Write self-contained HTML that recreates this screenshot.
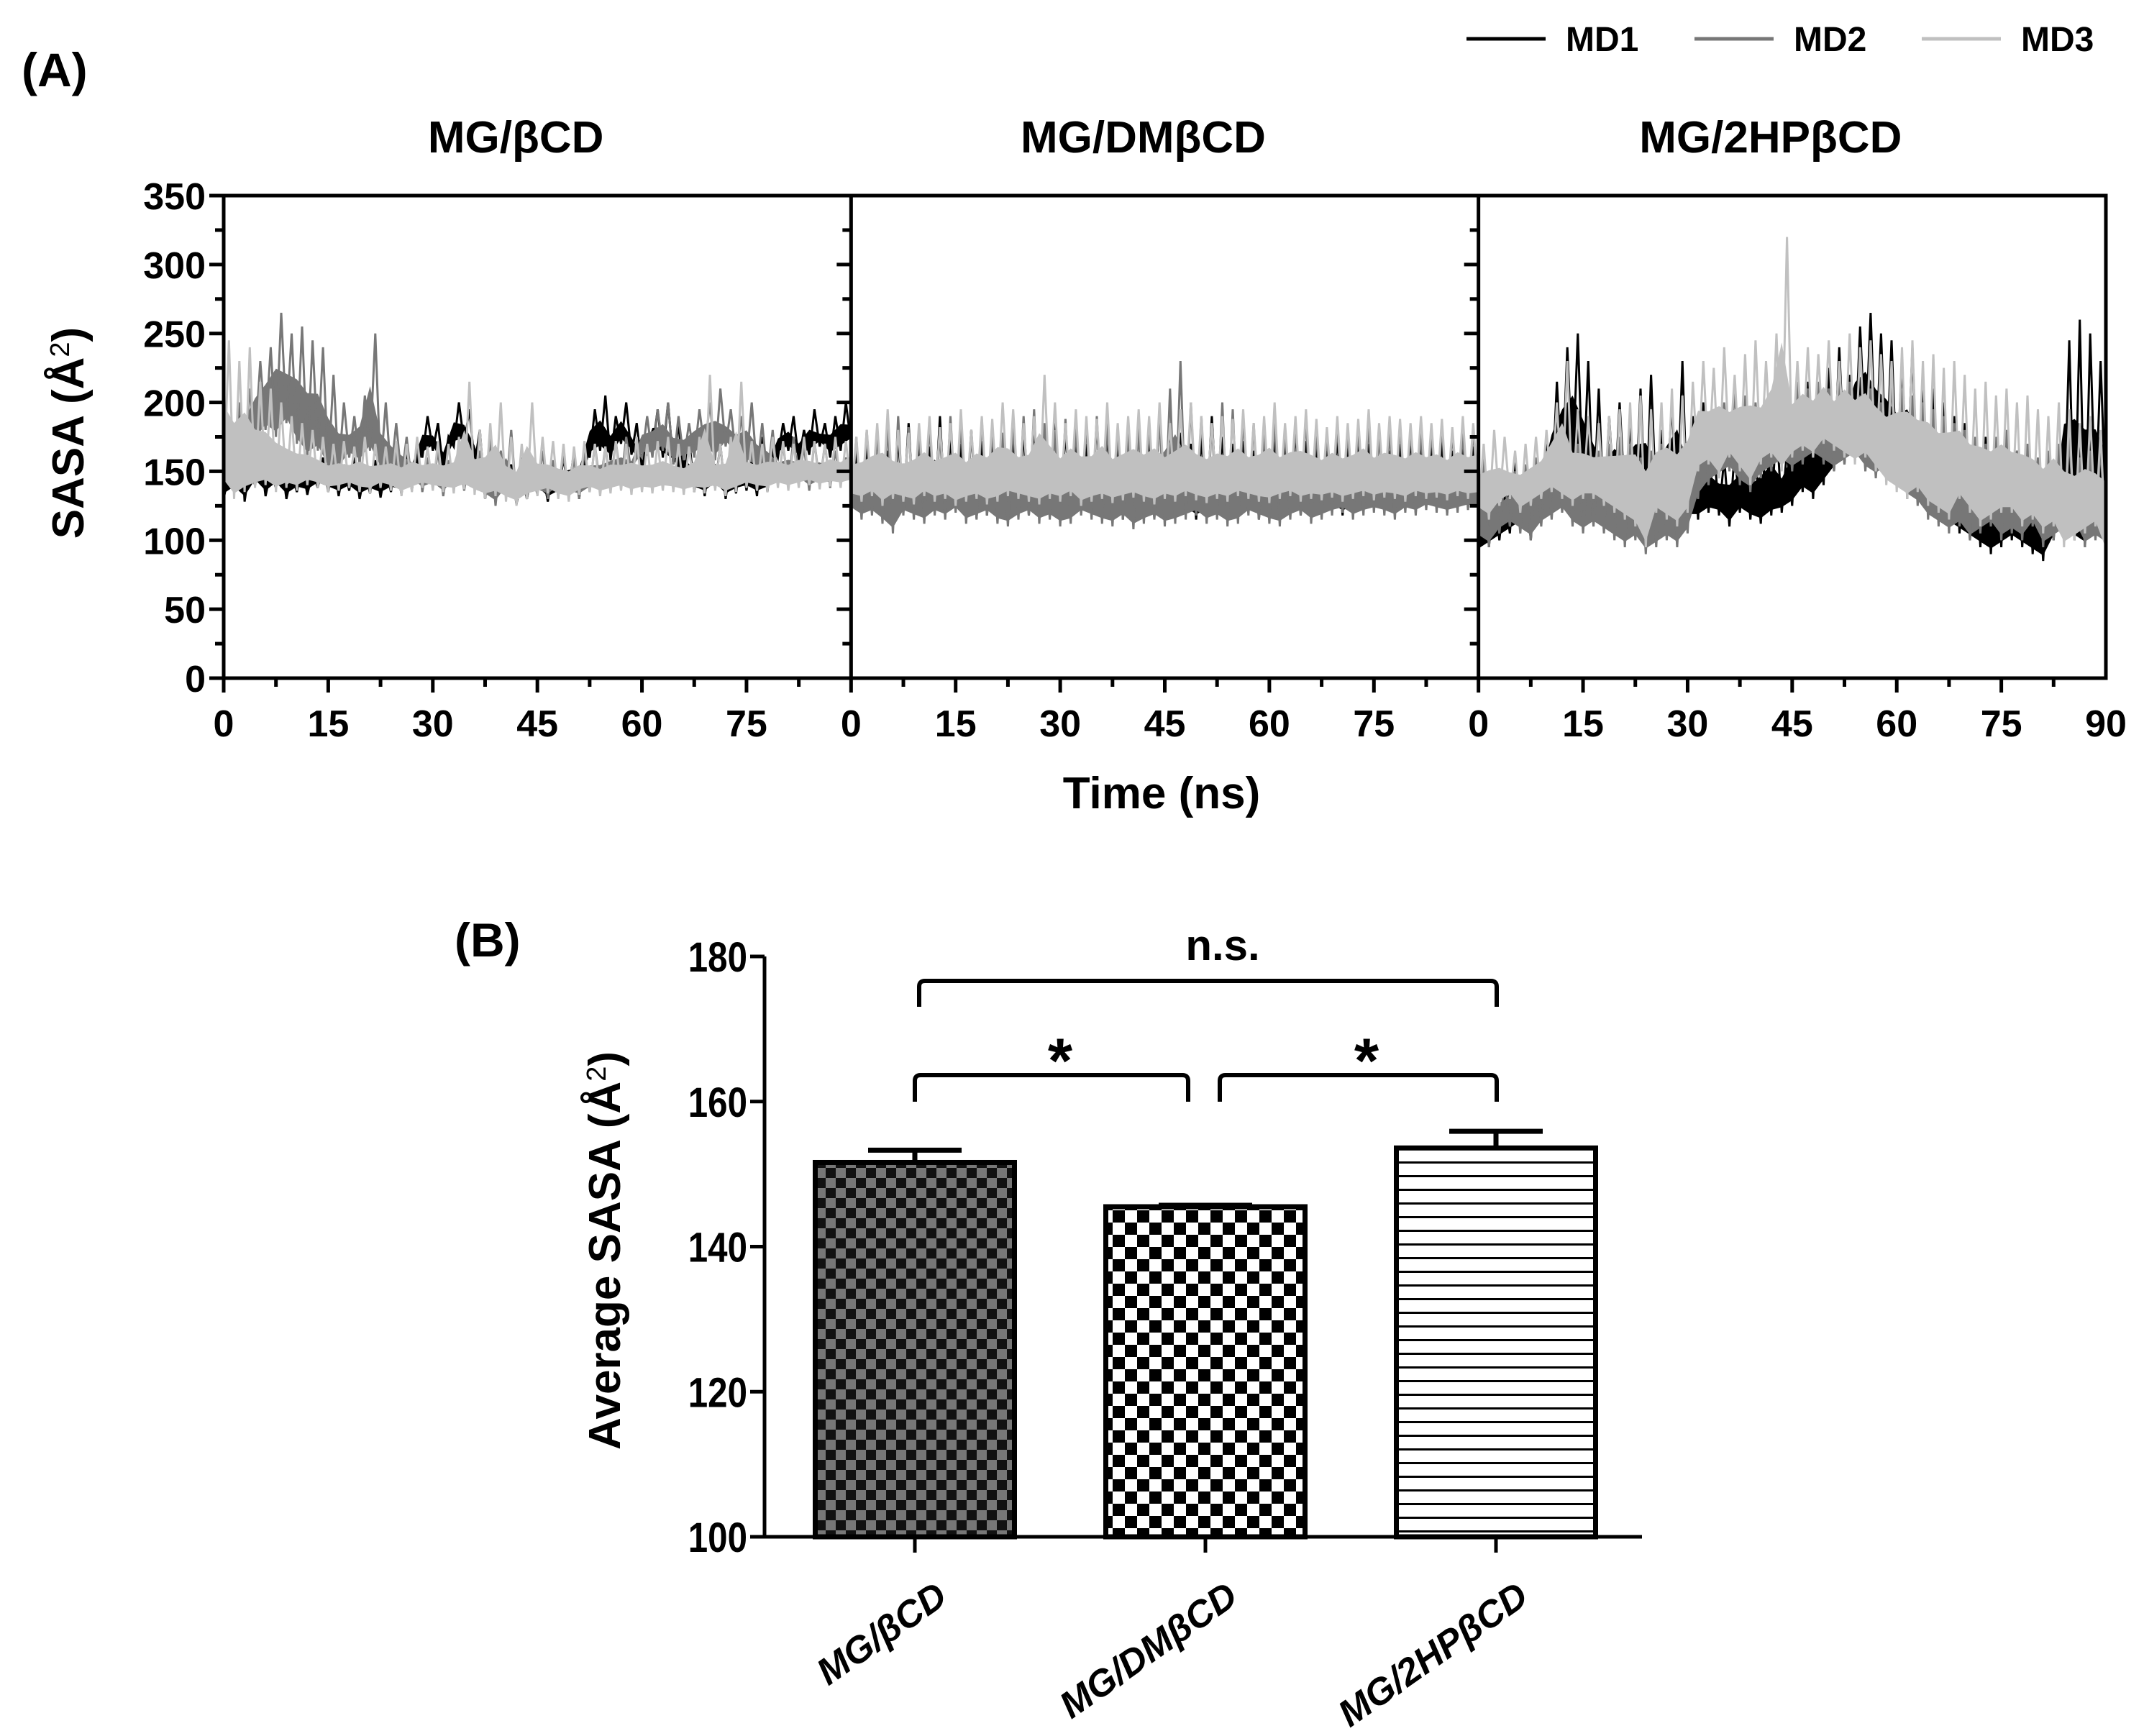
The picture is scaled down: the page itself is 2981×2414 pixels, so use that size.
<!DOCTYPE html>
<html><head><meta charset="utf-8"><style>
html,body{margin:0;padding:0;background:#fff;}
svg{display:block;}
text{font-family:"Liberation Sans",sans-serif;font-weight:bold;fill:#000;}
</style></head><body>
<svg id="fig" width="2981" height="2414" viewBox="0 0 2981 2414" xmlns="http://www.w3.org/2000/svg">
<defs>
<pattern id="pat1" width="28" height="28" patternUnits="userSpaceOnUse"><rect width="28" height="28" fill="#777"/><rect width="14" height="14" fill="#111"/><rect x="14" y="14" width="14" height="14" fill="#111"/></pattern>
<pattern id="pat2" width="34" height="34" patternUnits="userSpaceOnUse"><rect width="34" height="34" fill="#fff"/><rect width="17" height="17" fill="#000"/><rect x="17" y="17" width="17" height="17" fill="#000"/></pattern>
<pattern id="pat3" width="20" height="19" patternUnits="userSpaceOnUse"><rect width="20" height="19" fill="#fff"/><rect y="0" width="20" height="3" fill="#000"/></pattern>
</defs>
<text x="30" y="120" font-size="66">(A)</text>
<text x="632" y="1330" font-size="66">(B)</text>
</svg>
<script>
// ---------- Panel A data ----------
const panelTitles = ["MG/βCD", "MG/DMβCD", "MG/2HPβCD"];
const seriesNames = ["MD1", "MD2", "MD3"];
const seriesColors = ["#000", "#777", "#c0c0c0"];
const yTicksA = [0, 50, 100, 150, 200, 250, 300, 350];
const xTicksA = [0, 15, 30, 45, 60, 75];
const timeStep = 1.5;
// panel 1 (βCD): hi / lo envelope per 1.5 ns
const p1md1Hi = [150,200,155,165,150,160,148,155,150,160,158,155,160,150,158,152,160,165,170,190,185,175,200,195,180,160,150,155,148,152,150,155,160,165,170,195,205,190,200,185,170,195,200,185,175,165,160,170,158,165,160,175,170,185,190,180,195,185,190,200,195];
const p1md1Lo = [130,135,128,140,132,138,130,135,133,138,135,132,136,130,134,131,135,133,136,160,165,150,168,170,155,130,128,132,126,130,135,128,132,134,130,160,165,158,170,162,150,165,160,155,140,135,132,138,130,134,136,132,135,160,165,158,162,168,160,165,170];
const p1md2Hi = [190,200,210,230,240,265,250,255,245,240,220,200,190,205,250,200,185,175,170,160,165,158,162,160,165,175,165,180,160,150,165,158,162,160,165,170,168,172,175,165,190,195,200,190,185,195,200,210,195,190,200,185,180,170,175,168,172,170,165,160,170];
const p1md2Lo = [140,150,160,170,180,175,185,170,160,165,150,150,160,155,165,150,148,145,140,135,138,132,140,136,138,130,125,135,128,130,133,130,135,132,130,135,138,140,142,148,160,160,165,155,158,160,165,158,168,160,155,150,145,140,138,142,136,140,138,142,145];
const p1md3Hi = [245,230,240,215,210,200,190,185,180,175,170,172,168,175,170,168,172,170,175,168,172,170,175,215,180,185,200,175,170,200,175,172,170,168,172,170,168,172,170,175,170,172,175,170,168,175,220,170,175,215,172,170,175,172,170,175,172,170,175,172,178];
const p1md3Lo = [140,130,135,138,140,135,138,136,140,138,135,136,138,135,134,138,136,132,135,138,136,135,134,137,133,130,132,128,125,130,132,134,130,128,133,135,132,134,136,133,135,134,136,135,133,135,134,136,132,135,138,136,135,138,136,138,140,137,139,138,140];
// panel 2 (DMβCD)
const p2md1Hi = [165,170,180,165,175,185,170,168,190,175,170,180,172,168,175,170,178,185,175,195,180,175,170,185,178,172,170,180,175,190,180,178,170,175,190,175,170,172,165,170,175,168,180,172,170,165,175,168,172,170,178,165,170,175,168,170,172,165,170,168,175];
const p2md1Lo = [125,118,120,122,115,120,118,125,120,118,122,120,116,118,115,120,122,118,120,117,115,118,120,122,118,120,115,118,120,116,122,118,120,115,118,120,122,118,120,115,118,120,122,118,125,120,122,118,120,125,122,120,124,122,120,125,123,120,122,125,120];
const p2md2Hi = [175,180,178,185,190,182,180,185,178,190,185,180,188,182,178,185,190,195,185,180,188,182,185,190,185,180,178,182,185,190,210,230,200,190,185,200,195,190,185,180,188,182,185,190,180,178,185,180,182,185,178,180,185,182,178,180,185,180,178,182,180];
const p2md2Lo = [120,115,118,112,105,118,115,112,118,115,120,112,115,118,112,110,115,118,112,115,110,112,118,115,112,110,115,108,112,115,110,112,115,118,112,115,110,112,118,115,112,110,115,118,112,115,118,120,115,118,120,118,115,120,118,122,120,118,120,122,120];
const p2md3Hi = [175,180,185,195,180,178,185,190,182,185,195,180,190,188,200,195,185,190,220,200,185,195,190,188,200,185,190,195,190,200,185,195,200,190,185,190,188,195,185,190,200,185,190,195,188,182,190,185,188,195,185,190,188,185,190,185,188,182,190,185,188];
const p2md3Lo = [130,128,132,125,130,128,126,132,128,130,125,128,130,126,128,132,130,128,126,130,128,132,125,128,130,127,129,131,128,126,130,128,132,129,127,130,128,132,130,128,127,130,132,128,130,129,131,128,130,132,129,131,130,128,132,130,131,129,132,130,131];
// panel 3 (2HPβCD)
const p3md1Hi = [150,140,135,160,145,150,170,215,240,250,230,210,190,200,185,210,220,180,200,230,190,200,170,160,165,170,160,175,185,165,190,215,200,225,240,220,255,265,250,245,230,240,220,210,200,190,185,170,175,160,180,165,160,150,155,150,245,260,250,230,200];
const p3md1Lo = [90,95,100,105,110,100,115,130,140,150,135,120,115,125,130,120,110,125,130,120,115,115,120,118,110,120,115,112,118,120,125,135,130,140,150,155,165,170,160,150,145,140,130,120,115,110,105,100,95,90,95,100,95,90,85,100,110,100,95,120,120];
const p3md2Hi = [160,150,145,150,155,160,165,170,165,170,160,165,170,175,170,160,165,170,160,165,170,190,195,200,210,205,200,195,210,205,215,210,215,210,220,215,205,210,200,215,210,205,200,195,190,185,180,175,170,175,180,165,170,160,165,170,175,160,165,170,165];
const p3md2Lo = [100,95,105,110,105,100,110,115,120,110,105,110,105,100,95,100,90,95,100,95,105,130,140,145,150,140,135,145,150,155,150,155,160,155,150,155,160,150,145,150,140,130,125,115,110,105,110,100,105,110,100,105,100,110,95,100,105,110,95,100,95];
const p3md3Hi = [170,180,175,165,170,175,180,200,230,195,190,185,190,195,200,205,195,200,210,205,215,230,225,240,220,235,245,230,250,320,230,240,235,245,230,250,240,245,235,230,240,245,230,235,225,230,220,210,215,205,210,200,205,195,190,200,195,185,190,180,185];
const p3md3Lo = [120,115,125,130,120,125,130,135,130,125,130,130,125,120,115,110,95,120,115,110,120,150,155,145,160,150,140,155,160,150,160,165,160,170,165,160,155,160,150,140,135,130,135,125,120,115,130,120,110,115,120,120,110,115,105,110,95,100,105,110,90];
const panelHi = [[p1md1Hi,p1md2Hi,p1md3Hi],[p2md1Hi,p2md2Hi,p2md3Hi],[p3md1Hi,p3md2Hi,p3md3Hi]];
const panelLo = [[p1md1Lo,p1md2Lo,p1md3Lo],[p2md1Lo,p2md2Lo,p2md3Lo],[p3md1Lo,p3md2Lo,p3md3Lo]];

// ---------- Panel B data ----------
const barCategories = ["MG/βCD", "MG/DMβCD", "MG/2HPβCD"];
const barMeans = [151.6, 145.5, 153.6];
const barErrors = [1.7, 0.2, 2.3];
const yTicksB = [100, 120, 140, 160, 180];
const barPatterns = ["url(#pat1)", "url(#pat2)", "url(#pat3)"];

const NS = "http://www.w3.org/2000/svg";
const svg = document.getElementById("fig");
function mk(tag, attrs, parent) {
  const e = document.createElementNS(NS, tag);
  for (const k in attrs) e.setAttribute(k, attrs[k]);
  (parent || svg).appendChild(e);
  return e;
}

// ---------- Panel A axes ----------
const AX0 = 311, AX1 = 2928, AYT = 272, AYB = 943;
const PW = (AX1 - AX0) / 3;
const yA = v => AYB - v * (AYB - AYT) / 350;
const xA = (p, t) => AX0 + p * PW + t * PW / 90;

const gA = mk("g", {});



for (let p = 0; p < 3; p++) {
  const gp = mk("g", {}, gA);
  
  
  for (let s = 0; s < 3; s++) {
    const hi = panelHi[p][s], lo = panelLo[p][s];
    // envelope band
    let up = "", dn = "";
    for (let i = 0; i < hi.length; i++) {
      const t = Math.min(90, i * timeStep);
      up += (i === 0 ? "M" : "L") + xA(p, t).toFixed(1) + " " + yA((hi[i] * 0.55 + lo[i] * 0.45)).toFixed(1) + " ";
    }
    for (let i = hi.length - 1; i >= 0; i--) {
      const t = Math.min(90, i * timeStep);
      dn += "L" + xA(p, t).toFixed(1) + " " + yA(lo[i] + 4).toFixed(1) + " ";
    }
    const band = mk("path", {d: up + dn + "Z", fill: seriesColors[s], stroke: "none"}, gp);
    
    
    let d = "";
    for (let i = 0; i < hi.length; i++) {
      const t0 = i * timeStep, t1 = Math.min(90, i * timeStep + timeStep / 2);
      d += (i === 0 ? "M" : "L") + xA(p, t0).toFixed(1) + " " + yA(lo[i]).toFixed(1) + " L" + xA(p, t1).toFixed(1) + " " + yA(hi[i]).toFixed(1) + " ";
    }
    const path = mk("path", {d: d, fill: "none", stroke: seriesColors[s], "stroke-width": 3, "stroke-linejoin": "miter"}, gp);
    
    
  }
  const title = mk("text", {x: AX0 + p * PW + PW / 2 - 30, y: 212, "font-size": 62, "text-anchor": "middle"}, gA);
  title.textContent = panelTitles[p];
  
  
  for (let t = 0; t < 90; t += 7.5) {
    const major = (t % 15 === 0);
    const tk = mk("line", {x1: xA(p, t), x2: xA(p, t), y1: AYB, y2: AYB + (major ? 20 : 12), stroke: "#000", "stroke-width": 5}, gA);
    
    
  }
  for (const t of xTicksA) {
    const lb = mk("text", {x: xA(p, t), y: 1024, "font-size": 52, "text-anchor": "middle"}, gA);
    lb.textContent = t;
    
    
  }
  const xl = AX0 + p * PW;
  for (let v = 0; v <= 350; v += 25) {
    const major = (v % 50 === 0);
    const tk = mk("line", {x1: xl, x2: xl - (major ? 20 : 12), y1: yA(v), y2: yA(v), stroke: "#000", "stroke-width": 5}, gA);
    
    
  }
}
{
  const lb = mk("text", {x: AX1, y: 1024, "font-size": 52, "text-anchor": "middle"}, gA);
  lb.textContent = "90";
  
  
}
for (const v of yTicksA) {
  const lb = mk("text", {x: 286, y: yA(v) + 19, "font-size": 52, "text-anchor": "end"}, gA);
  lb.textContent = v;
  
  
}
const frame = mk("path", {d: `M${AX0} ${AYT} L${AX1} ${AYT} L${AX1} ${AYB} L${AX0} ${AYB} Z M${AX0+PW} ${AYT} L${AX0+PW} ${AYB} M${AX0+2*PW} ${AYT} L${AX0+2*PW} ${AYB}`, fill: "none", stroke: "#000", "stroke-width": 5}, gA);


{
  const xl = mk("text", {x: 1615, y: 1124, "font-size": 62, "text-anchor": "middle"}, gA);
  xl.textContent = "Time (ns)";
  
  
  const yl = mk("text", {x: 0, y: 0, "font-size": 62, "text-anchor": "middle", transform: "translate(116,602) rotate(-90)"}, gA);
  yl.innerHTML = 'SASA (Å<tspan dy="-20" font-size="38" font-weight="normal">2</tspan><tspan dy="20">)</tspan>';
  
  
}
const legX = [2039, 2356, 2672];
for (let s = 0; s < 3; s++) {
  const g = mk("g", {});
  
  
  mk("line", {x1: legX[s], x2: legX[s] + 110, y1: 54, y2: 54, stroke: seriesColors[s], "stroke-width": 5}, g);
  const t = mk("text", {x: legX[s] + 138, y: 71, "font-size": 48}, g);
  t.textContent = seriesNames[s];
}

// ---------- Panel B ----------
const BX0 = 1063, BX1 = 2283, BYT = 1330, BYB = 2137;
const yB = v => BYB - (v - 100) * (BYB - BYT) / 80;
const barCenters = [1272, 1676, 2080];
const barW = 277;
const gB = mk("g", {});


for (let i = 0; i < barMeans.length; i++) {
  const cx = barCenters[i];
  const top = yB(barMeans[i]), cap = yB(barMeans[i] + barErrors[i]);
  const eb = mk("path", {d: `M${cx} ${top} L${cx} ${cap} M${cx-65} ${cap} L${cx+65} ${cap}`, stroke: "#000", "stroke-width": 7, fill: "none"}, gB);
  
  
  const r = mk("rect", {x: cx - barW / 2, y: top, width: barW, height: BYB - top, fill: barPatterns[i], stroke: "#000", "stroke-width": 7}, gB);
  
  
  const tk = mk("line", {x1: cx, x2: cx, y1: BYB, y2: BYB + 22, stroke: "#000", "stroke-width": 5}, gB);
  
  
  const lb = mk("text", {x: 0, y: 0, "font-size": 52, "font-style": "italic", "text-anchor": "end", transform: `translate(${cx+48},${BYB+90}) rotate(-35)`}, gB);
  lb.textContent = barCategories[i];
  
  
}
const axB = mk("path", {d: `M${BX0} ${BYT} L${BX0} ${BYB} L${BX1} ${BYB}`, fill: "none", stroke: "#000", "stroke-width": 5}, gB);


for (const v of yTicksB) {
  const tk = mk("line", {x1: BX0, x2: BX0 - 20, y1: yB(v), y2: yB(v), stroke: "#000", "stroke-width": 5}, gB);
  
  
  const lb = mk("text", {x: 0, y: 0, "font-size": 58, "text-anchor": "end", transform: `translate(${BX0-24},${yB(v)+21}) scale(0.85,1)`}, gB);
  lb.textContent = v;
  
  
}
{
  const yl = mk("text", {x: 0, y: 0, "font-size": 62, "text-anchor": "middle", transform: "translate(862,1739) rotate(-90)"}, gB);
  yl.innerHTML = 'Average SASA (Å<tspan dy="-20" font-size="38" font-weight="normal">2</tspan><tspan dy="20">)</tspan>';
  
  
}
const brackets = [[1278, 2081, 1364, 1400], [1272, 1652, 1495, 1532], [1696, 2081, 1495, 1532]];
const bnames = ['bracket-ns', 'bracket-sig-left', 'bracket-sig-right'];
for (let i = 0; i < 3; i++) {
  const [a, b, y, y2] = brackets[i];
  const br = mk("path", {d: `M${a} ${y2} L${a} ${y+8} Q${a} ${y} ${a+8} ${y} L${b-8} ${y} Q${b} ${y} ${b} ${y+8} L${b} ${y2}`, fill: "none", stroke: "#000", "stroke-width": 6}, gB);
  
  
}
{
  const t = mk("text", {x: 1700, y: 1335, "font-size": 60, "text-anchor": "middle"}, gB);
  t.textContent = "n.s.";
  
  
  for (const x of [1474, 1900]) {
    const s = mk("text", {x: x, y: 1505, "font-size": 88, "text-anchor": "middle"}, gB);
    s.textContent = "*";
    
    
  }
}
</script>
</body></html>
